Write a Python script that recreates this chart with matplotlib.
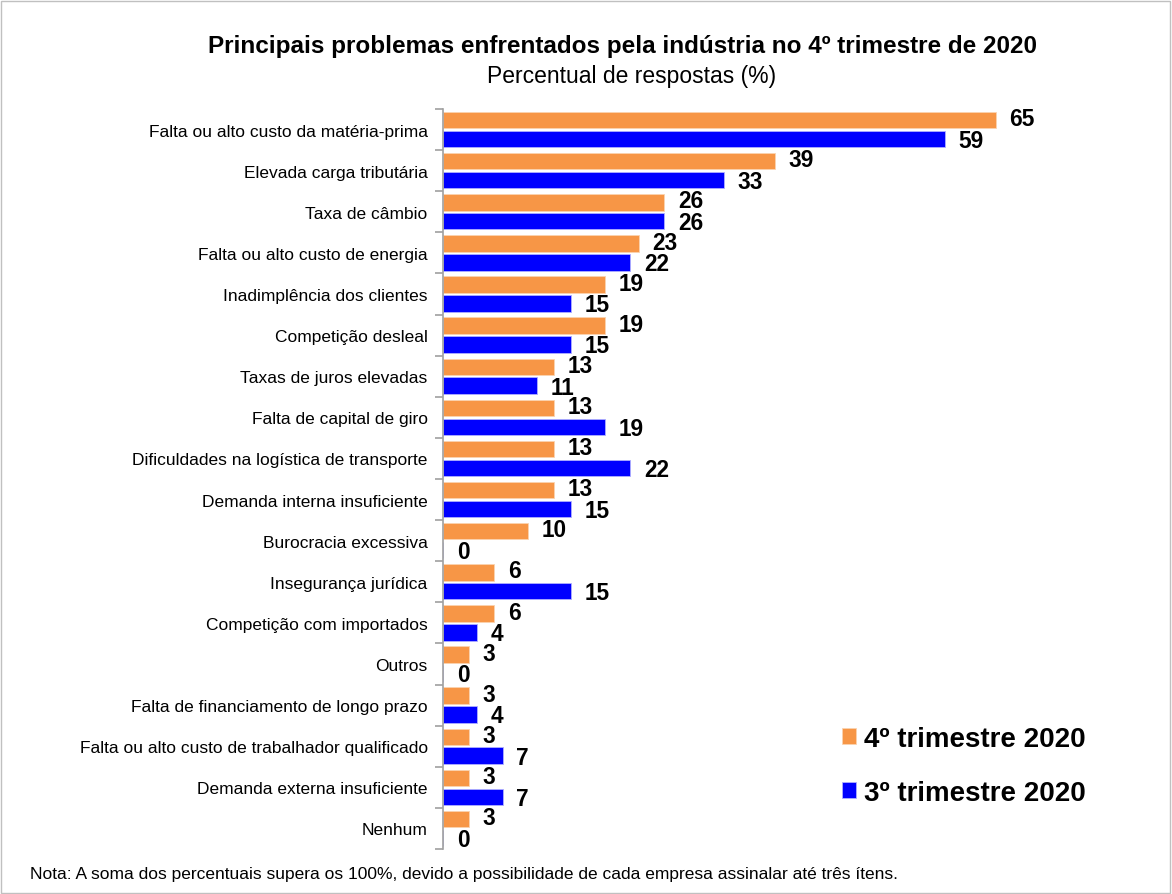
import numpy as np
import matplotlib.pyplot as plt
from matplotlib.patches import Rectangle

plt.rcParams['font.family'] = ['Liberation Sans', 'DejaVu Sans']

categorias = [
    "Falta ou alto custo da matéria-prima",
    "Elevada carga tributária",
    "Taxa de câmbio",
    "Falta ou alto custo de energia",
    "Inadimplência dos clientes",
    "Competição desleal",
    "Taxas de juros elevadas",
    "Falta de capital de giro",
    "Dificuldades na logística de transporte",
    "Demanda interna insuficiente",
    "Burocracia excessiva",
    "Insegurança jurídica",
    "Competição com importados",
    "Outros",
    "Falta de financiamento de longo prazo",
    "Falta ou alto custo de trabalhador qualificado",
    "Demanda externa insuficiente",
    "Nenhum",
]
tri4 = [65, 39, 26, 23, 19, 19, 13, 13, 13, 13, 10, 6, 6, 3, 3, 3, 3, 3]
tri3 = [59, 33, 26, 22, 15, 15, 11, 19, 22, 15, 0, 15, 4, 0, 4, 7, 7, 0]

cor4 = '#F79646'
cor3 = '#0000FF'

fig = plt.figure(figsize=(11.72, 8.95), dpi=100)
ax = fig.add_axes([443 / 1172, 1 - 850 / 895, 657 / 1172, 740 / 895])

y = np.arange(len(categorias))
h = 0.40
b4 = ax.barh(y - 0.23, tri4, height=h, color=cor4, edgecolor='#fbd3b0', linewidth=0.6,
             label='4º trimestre 2020')
b3 = ax.barh(y + 0.23, tri3, height=h, color=cor3, edgecolor='#b0b0ff', linewidth=0.6,
             label='3º trimestre 2020')

# rotulos de valor
for bars, vals, dy in ((b4, tri4, 1), (b3, tri3, -1)):
    for bar, v in zip(bars, vals):
        ax.annotate(str(v), (bar.get_width(), bar.get_y() + bar.get_height() / 2),
                    xytext=(10, dy), textcoords='offset points', ha='left', va='center',
                    fontsize=16.3, fontweight='bold')

ax.set_ylim(len(categorias) - 0.5, -0.5)
ax.set_xlim(0, 657 / 8.5)
ax.set_yticks(y)
ax.set_yticklabels(categorias, fontsize=12.5)
ax.set_yticks(np.arange(len(categorias) + 1) - 0.5, minor=True)
ax.tick_params(axis='y', which='major', length=0, pad=11)
ax.tick_params(axis='y', which='minor', length=6, color='#a0a0a0', width=1.2)
ax.set_xticks([])
for s in ('top', 'right', 'bottom'):
    ax.spines[s].set_visible(False)
ax.spines['left'].set_color('#a0a0a0')
ax.spines['left'].set_linewidth(1.2)

fig.text(622 / 1172, 1 - 47 / 895, 'Principais problemas enfrentados pela indústria no 4º trimestre de 2020',
         ha='center', va='center', fontsize=17.5, fontweight='bold')
fig.text(632 / 1172, 1 - 76 / 895, 'Percentual de respostas (%)',
         ha='center', va='center', fontsize=16.5)
fig.text(30 / 1172, 1 - 875 / 895,
         'Nota: A soma dos percentuais supera os 100%, devido a possibilidade de cada empresa assinalar até três ítens.',
         ha='left', va='center', fontsize=12.5)

fig.legend(handles=[b4, b3], loc='upper left', bbox_to_anchor=(817 / 1172, 1 - 702 / 895),
           frameon=False, prop={'size': 20, 'weight': 'bold'},
           handlelength=0.5, handleheight=0.5, handletextpad=0.3, labelspacing=1.0)

fig.add_artist(Rectangle((0.001, 0.001), 0.997, 0.997, transform=fig.transFigure,
                         fill=False, edgecolor='#c0c0c0', linewidth=1))

fig.savefig('out.png', dpi=100)
